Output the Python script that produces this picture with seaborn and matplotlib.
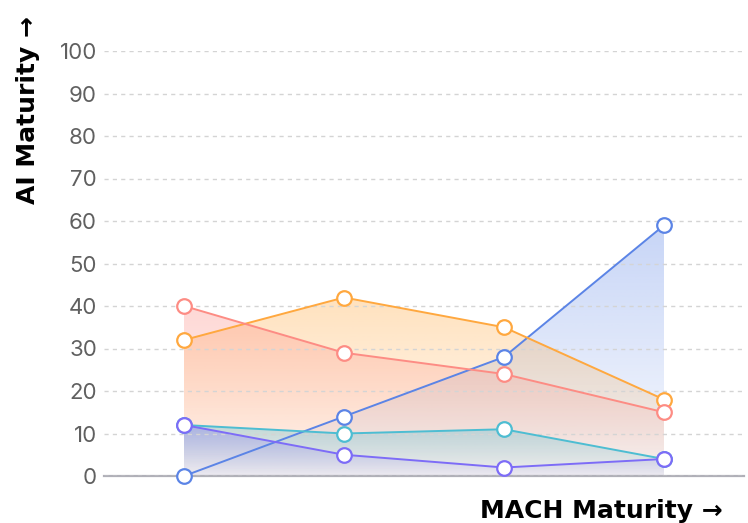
import numpy as np
import pandas as pd
import seaborn as sns
import matplotlib.pyplot as plt
from matplotlib.colors import to_rgb

# category positions (x axis has no visible labels)
stages = [0, 1, 2, 3]
blue = [0, 14, 28, 59]
orange = [32, 42, 35, 18]
red = [40, 29, 24, 15]
cyan = [12, 10, 11, 4]
purple = [12, 5, 2, 4]

names = ["blue", "orange", "red", "cyan", "purple"]
colors = ["#5b84e6", "#ffa83f", "#fd8c84", "#4dbdd2", "#7d6cf7"]
series = [blue, orange, red, cyan, purple]

df = pd.DataFrame({
    "stage": stages * len(names),
    "value": blue + orange + red + cyan + purple,
    "series": np.repeat(names, len(stages)),
})

sns.set_theme(style="white")
plt.rcParams["font.family"] = ["Inter", "DejaVu Sans"]

fig = plt.figure(figsize=(7.48, 5.23), dpi=100)
ax = fig.add_axes([104 / 748, 47 / 523, 640 / 748, 425 / 523])

# gradient area fills (strong at top of each series, fading to the axis)
for vals, col in zip(series, colors):
    poly = ax.fill_between(stages, vals, 0, color="none", lw=0)
    r, g, b = to_rgb(col)
    grad = np.zeros((100, 1, 4))
    grad[..., 0], grad[..., 1], grad[..., 2] = r, g, b
    grad[:, 0, 3] = np.linspace(0.34, 0.04, 100)
    im = ax.imshow(grad, extent=(stages[0], stages[-1], 0, max(vals)),
                   aspect="auto", origin="upper", zorder=1)
    im.set_clip_path(poly.get_paths()[0], transform=ax.transData)

# lines with hollow markers
sns.lineplot(data=df, x="stage", y="value", hue="series", hue_order=names,
             palette=colors, marker="o", markersize=10.5, markerfacecolor="white",
             markeredgewidth=1.6, linewidth=1.4, legend=False, ax=ax, zorder=3)
for line in ax.lines:
    line.set_markeredgecolor(line.get_color())
    line.set_clip_on(False)

ax.set_xlim(-0.5, 3.5)
ax.set_ylim(0, 100)
ax.set_yticks(range(0, 101, 10))
ax.set_xticks([])
ax.yaxis.grid(True, linestyle=(0, (3, 3)), color="#d4d4d4", linewidth=1)
ax.set_axisbelow(False)
for g in ax.get_ygridlines():
    g.set_zorder(2)
ax.tick_params(axis="y", length=0, pad=5, labelsize=16, labelcolor="#606060")

for s in ["top", "right", "left"]:
    ax.spines[s].set_visible(False)
ax.spines["bottom"].set_color("#b0b0b8")
ax.spines["bottom"].set_linewidth(1.6)

ax.set_xlabel("")
ax.set_ylabel("")
fig.text(0.966, 0.01, "MACH Maturity \u2192", ha="right", va="baseline",
         fontsize=18, fontweight="bold", color="black", family=["DejaVu Sans"])
fig.text(0.037, 0.79, "AI Maturity \u2192", ha="center", va="center", rotation=90,
         fontsize=18, fontweight="bold", color="black", family=["DejaVu Sans"])

fig.savefig("out.png", dpi=100)
